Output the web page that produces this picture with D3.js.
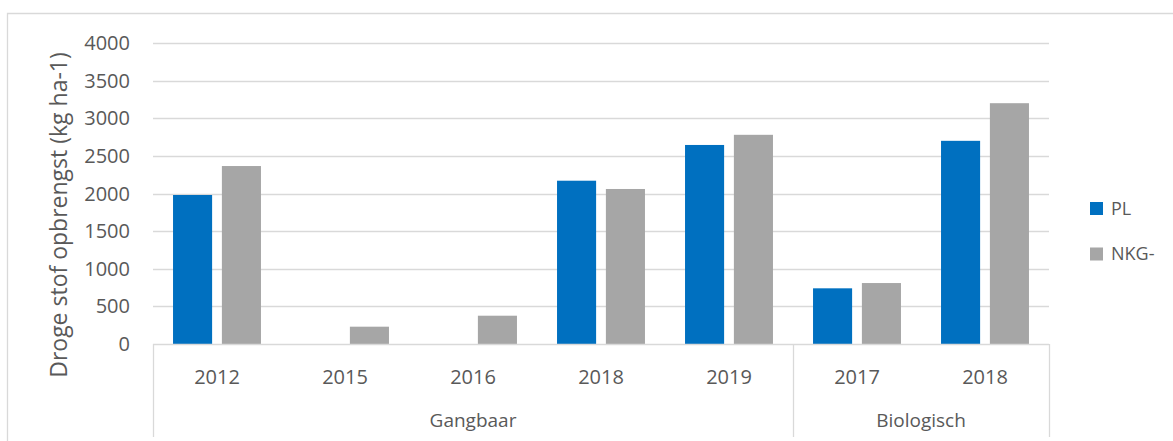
<!DOCTYPE html>
<meta charset="utf-8">
<style>
    body {
        margin: 0;
        background: #fff;
        font-family: "Open Sans", "Liberation Sans", sans-serif;
    }

    .grid line {
        stroke: #d9d9d9;
        stroke-width: 1.3;
    }

    .axis text {
        fill: #595959;
    }
</style>

<body>
    <script src="https://d3js.org/d3.v7.min.js"></script>
    <script>

        // data
        var years = ["2012", "2015", "2016", "2018", "2019", "2017", "2018"];
        var groupOf = ["Gangbaar", "Gangbaar", "Gangbaar", "Gangbaar", "Gangbaar", "Biologisch", "Biologisch"];
        var groups = ["Gangbaar", "Biologisch"];
        var series = ["PL", "NKG-"];
        var plValues = [1980, null, null, 2170, 2645, 740, 2700];
        var nkgValues = [2365, 230, 376, 2060, 2780, 810, 3200];
        var yTicks = [0, 500, 1000, 1500, 2000, 2500, 3000, 3500, 4000];

        var colors = { "PL": "#0070c0", "NKG-": "#a6a6a6" };

        var W = 1173, H = 441;
        var plot = { left: 153, right: 1049, top: 43, bottom: 344 };

        var svg = d3.select("body").append("svg")
            .attr("width", W)
            .attr("height", H);

        // outer frame
        svg.append("path")
            .attr("d", "M7.5," + H + " V13.5 H" + W)
            .attr("fill", "none")
            .attr("stroke", "#d9d9d9")
            .attr("stroke-width", 1.3);

        var idx = d3.range(years.length);

        var x = d3.scaleBand()
            .domain(idx)
            .range([plot.left, plot.right]);

        var x1 = d3.scaleBand()
            .domain(series)
            .range([0, x.bandwidth()])
            .paddingInner(0.2)
            .paddingOuter(0.41);

        var y = d3.scaleLinear()
            .domain([0, 4000])
            .range([plot.bottom, plot.top]);

        // gridlines
        svg.append("g")
            .attr("class", "grid")
            .selectAll("line")
            .data(yTicks.filter(d => d > 0))
            .enter().append("line")
            .attr("x1", plot.left)
            .attr("x2", plot.right)
            .attr("y1", d => Math.round(y(d)) + 0.5)
            .attr("y2", d => Math.round(y(d)) + 0.5);

        // y tick labels
        svg.append("g")
            .attr("class", "axis")
            .selectAll("text")
            .data(yTicks)
            .enter().append("text")
            .attr("x", 130)
            .attr("y", d => y(d))
            .attr("dy", "0.35em")
            .attr("text-anchor", "end")
            .style("font-size", "20px")
            .text(d => d);

        // y title
        svg.append("text")
            .attr("transform", "translate(67,215) rotate(-90)")
            .attr("text-anchor", "middle")
            .attr("fill", "#595959")
            .style("font-size", "23px")
            .text("Droge stof opbrengst (kg ha-1)");

        // bars
        var rows = idx.map(i => ({ i: i, values: [
            { key: "PL", value: plValues[i] },
            { key: "NKG-", value: nkgValues[i] }
        ] }));

        svg.append("g")
            .selectAll("g")
            .data(rows)
            .enter().append("g")
            .attr("transform", d => "translate(" + x(d.i) + ",0)")
            .selectAll("rect")
            .data(d => d.values.filter(v => v.value != null))
            .enter().append("rect")
            .attr("x", d => x1(d.key))
            .attr("width", x1.bandwidth())
            .attr("y", d => y(d.value))
            .attr("height", d => y(0) - y(d.value))
            .attr("fill", d => colors[d.key]);

        // category axis
        var axisG = svg.append("g").attr("class", "grid");
        axisG.append("line")
            .attr("x1", plot.left).attr("x2", plot.right)
            .attr("y1", plot.bottom + 0.5).attr("y2", plot.bottom + 0.5);

        var groupBounds = groups.map(g => {
            var members = idx.filter(i => groupOf[i] == g);
            return {
                name: g,
                x0: x(members[0]),
                x1: x(members[members.length - 1]) + x.bandwidth()
            };
        });

        var edges = [plot.left].concat(groupBounds.map(g => g.x1));
        axisG.selectAll(".sep")
            .data(edges)
            .enter().append("line")
            .attr("class", "sep")
            .attr("x1", d => Math.round(d) + 0.5)
            .attr("x2", d => Math.round(d) + 0.5)
            .attr("y1", plot.bottom)
            .attr("y2", 437);

        svg.append("g")
            .attr("class", "axis")
            .selectAll("text")
            .data(idx)
            .enter().append("text")
            .attr("x", i => x(i) + x.bandwidth() / 2)
            .attr("y", 377)
            .attr("dy", "0.35em")
            .attr("text-anchor", "middle")
            .style("font-size", "20px")
            .text(i => years[i]);

        svg.append("g")
            .attr("class", "axis")
            .selectAll("text")
            .data(groupBounds)
            .enter().append("text")
            .attr("x", d => (d.x0 + d.x1) / 2)
            .attr("y", 420)
            .attr("dy", "0.35em")
            .attr("text-anchor", "middle")
            .style("font-size", "19px")
            .text(d => d.name);

        // legend
        var legend = svg.selectAll(".legend")
            .data(series)
            .enter().append("g")
            .attr("class", "legend")
            .attr("transform", (d, i) => "translate(1090," + (202 + i * 45.5) + ")");

        legend.append("rect")
            .attr("width", 13)
            .attr("height", 13)
            .attr("fill", d => colors[d]);

        legend.append("text")
            .attr("x", 21)
            .attr("y", 6.5)
            .attr("dy", "0.35em")
            .attr("fill", "#595959")
            .style("font-size", "18px")
            .text(d => d);

    </script>
</body>
